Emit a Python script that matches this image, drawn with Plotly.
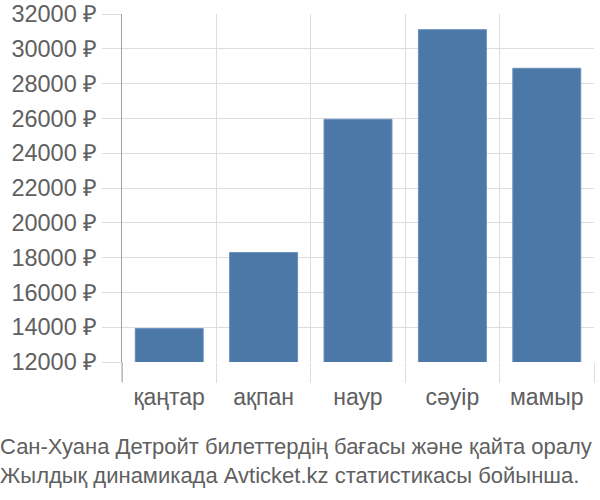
import plotly.graph_objects as go

months = ["қаңтар", "ақпан", "наур", "сәуір", "мамыр"]
prices = [13920, 18290, 25950, 31100, 28880]
y_ticks = [12000, 14000, 16000, 18000, 20000, 22000, 24000, 26000, 28000, 30000, 32000]
currency = "₽"
caption = ["Сан-Хуана Детройт билеттердің бағасы және қайта оралу",
           "Жылдық динамикада Avticket.kz статистикасы бойынша."]

W, H = 600, 500
ML, MR, MT, MB = 122, 6, 14, 138
PW = W - ML - MR
PH = H - MT - MB

FONT = "Liberation Sans, Arial, sans-serif"
TXT = "#606060"
GRID = "#dddddd"

fig = go.Figure(go.Bar(
    x=months, y=prices,
    marker=dict(color="#4c78a8", line=dict(color="#6a90bb", width=1)),
    width=0.72,
))

fig.update_layout(
    width=W, height=H,
    margin=dict(l=ML, r=MR, t=MT, b=MB, autoexpand=False),
    paper_bgcolor="white", plot_bgcolor="white",
    showlegend=False,
    font=dict(family=FONT, color=TXT, size=22),
    xaxis=dict(
        tickson="boundaries", ticks="outside", ticklen=20, tickcolor=GRID, tickwidth=1,
        showgrid=True, gridcolor=GRID, gridwidth=1,
        showline=False, zeroline=False,
        tickfont=dict(size=23, color=TXT, family=FONT),
        ticklabelstandoff=19,
        range=[-0.5, len(months) - 0.5],
    ),
    yaxis=dict(
        range=[y_ticks[0], y_ticks[-1]],
        tickvals=y_ticks, ticktext=[f"{v} {currency}" for v in y_ticks],
        ticks="outside", ticklen=19, tickcolor=GRID, tickwidth=1,
        showgrid=True, gridcolor=GRID, gridwidth=1,
        showline=True, linecolor="#a0a0a0", linewidth=1,
        zeroline=False,
        tickfont=dict(size=23.5, color=TXT, family=FONT),
    ),
)

# extend left axis line down past the plot like the reference
fig.add_shape(type="line", xref="paper", yref="paper", x0=0, x1=0,
              y0=-20 / PH, y1=0, line=dict(color="#a0a0a0", width=1))

fig.add_annotation(
    text="<br>".join(caption), xref="paper", yref="paper",
    x=-ML / PW, xshift=-2, y=-(432 - MT - PH) / PH,
    xanchor="left", yanchor="top", align="left", showarrow=False,
    font=dict(size=22, color=TXT, family=FONT),
)

fig.write_html("out.html", config={"displayModeBar": False},
               post_script="document.body.style.margin='0';")
